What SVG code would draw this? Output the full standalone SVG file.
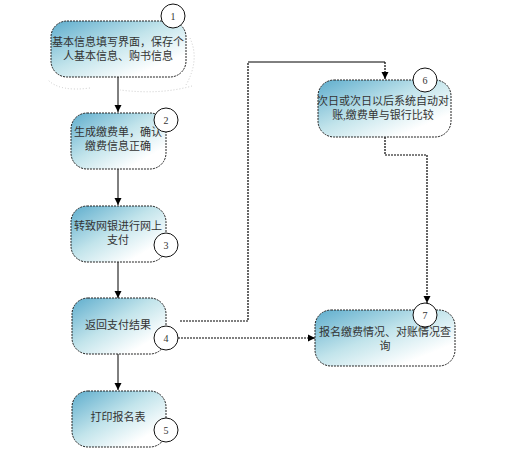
<svg xmlns="http://www.w3.org/2000/svg" width="525" height="469" viewBox="0 0 525 469">
<defs>
<linearGradient id="g" x1="0" y1="0" x2="1" y2="1">
<stop offset="0" stop-color="#5eadcd"/>
<stop offset="0.45" stop-color="#c2e4eb"/>
<stop offset="0.8" stop-color="#ffffff"/>
</linearGradient>
<marker id="ah" markerWidth="8" markerHeight="8" refX="7" refY="4" orient="auto" markerUnits="userSpaceOnUse">
<path d="M0,0.5 L7,4 L0,7.5 Z" fill="#000"/>
</marker>
<style>
.box{fill:url(#g);stroke:#222;stroke-width:1;stroke-dasharray:2,1}
.num{fill:#fff;stroke:#111;stroke-width:1}
.t{font-family:"Liberation Serif","Noto Sans CJK SC",serif;font-size:11px;fill:#333;text-anchor:middle}
.n{font-family:"Liberation Serif","Noto Sans CJK SC",serif;font-size:10px;fill:#333;text-anchor:middle}
.solid{fill:none;stroke:#000;stroke-width:1}
.dot{fill:none;stroke:#000;stroke-width:1.2;stroke-dasharray:2,1}
.shadow{fill:none;stroke:#ccc;stroke-width:1;stroke-dasharray:1,2}
</style>
</defs>
<rect width="525" height="469" fill="#fff"/>
<path class="shadow" d="M190,38 Q200,60 186,85 M192,86 Q160,95 120,90 M90,88 Q60,92 48,80"/>
<g id="connectors">
<path class="solid" d="M118,77 V112" marker-end="url(#ah)"/>
<path class="solid" d="M118,169 V205" marker-end="url(#ah)"/>
<path class="solid" d="M118,262 V298" marker-end="url(#ah)"/>
<path class="solid" d="M118,354 V390" marker-end="url(#ah)"/>
<path class="dot" d="M180,321 H248 V62"/>
<path class="solid" d="M248,62 H385"/>
<path class="dot" d="M385,62 V79" marker-end="url(#ah)"/>
<path class="dot" d="M385,137 V155 H427 V303" marker-end="url(#ah)"/>
<path class="dot" d="M178,338 H315" marker-end="url(#ah)"/>
</g>
<g id="node1">
<rect class="box" x="51" y="21" width="135" height="56" rx="16"/>
<text class="t" x="118" y="46">基本信息填写界面，保存个</text>
<text class="t" x="118" y="60">人基本信息、购书信息</text>
<circle class="num" cx="173" cy="16" r="12"/>
<text class="n" x="173" y="20">1</text>
</g>
<g id="node2">
<rect class="box" x="71" y="113" width="95" height="56" rx="16"/>
<text class="t" x="118" y="136">生成缴费单，确认</text>
<text class="t" x="118" y="150">缴费信息正确</text>
<circle class="num" cx="166" cy="120" r="12"/>
<text class="n" x="166" y="124">2</text>
</g>
<g id="node3">
<rect class="box" x="71" y="206" width="95" height="56" rx="16"/>
<text class="t" x="118" y="230">转致网银进行网上</text>
<text class="t" x="118" y="244">支付</text>
<circle class="num" cx="166" cy="245" r="12"/>
<text class="n" x="166" y="249">3</text>
</g>
<g id="node4">
<rect class="box" x="72" y="298" width="94" height="56" rx="16"/>
<text class="t" x="118" y="329">返回支付结果</text>
<circle class="num" cx="166" cy="338" r="12"/>
<text class="n" x="166" y="342">4</text>
</g>
<g id="node5">
<rect class="box" x="72" y="391" width="94" height="56" rx="16"/>
<text class="t" x="118" y="421">打印报名表</text>
<circle class="num" cx="166" cy="430" r="12"/>
<text class="n" x="166" y="434">5</text>
</g>
<g id="node6">
<rect class="box" x="318" y="80" width="133" height="57" rx="16"/>
<text class="t" x="383" y="105">次日或次日以后系统自动对</text>
<text class="t" x="383" y="119">账,缴费单与银行比较</text>
<circle class="num" cx="425" cy="80" r="12"/>
<text class="n" x="425" y="84">6</text>
</g>
<g id="node7">
<rect class="box" x="315" y="310" width="140" height="56" rx="16"/>
<text class="t" x="385" y="336">报名缴费情况、对账情况查</text>
<text class="t" x="385" y="350">询</text>
<circle class="num" cx="425" cy="315" r="12"/>
<text class="n" x="425" y="319">7</text>
</g>
</svg>
